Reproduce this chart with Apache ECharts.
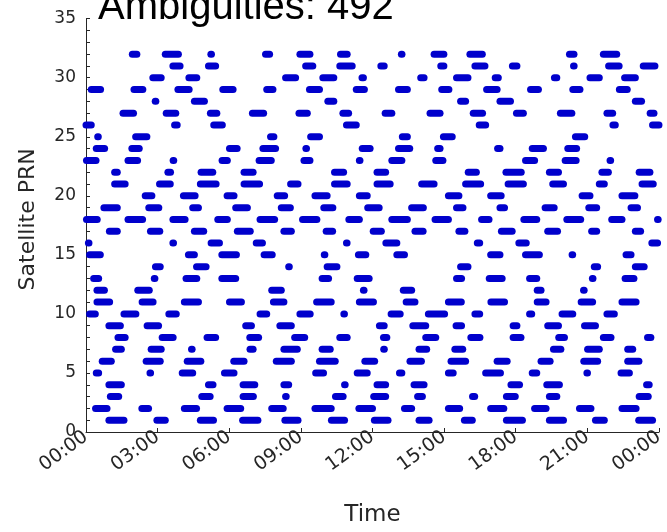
<!DOCTYPE html>
<html>
<head>
<meta charset="UTF-8">
<script src="https://cdn.jsdelivr.net/npm/echarts@6/dist/echarts.min.js"></script>
<style>
  html, body { margin: 0; padding: 0; background: #fff; }
  #main { width: 667px; height: 532px; }
</style>
<title>Ambiguities</title>
</head>
<body>
<div id="main"></div>
<script type="text/javascript">
// ambiguity arcs per satellite, [start hour, end hour]
var prn01 = [[0.96,1.59],[2.97,3.32],[4.79,5.34],[6.56,7.20],[8.33,8.88],[10.28,10.83],[12.08,12.65],[13.95,14.37],[15.85,16.18],[17.61,18.28],[19.41,20.00],[21.34,21.71],[23.15,23.73]];
var prn02 = [[0.40,0.88],[2.34,2.62],[4.12,4.63],[5.91,6.48],[7.78,8.26],[9.59,10.27],[11.43,12.00],[13.34,13.64],[15.18,15.65],[16.95,17.50],[18.79,19.27],[20.67,21.15],[22.45,23.04]];
var prn03 = [[1.02,1.37],[4.85,5.20],[6.58,7.01],[8.36,8.36],[10.45,10.77],[12.05,12.55],[13.89,14.09],[16.19,16.28],[17.61,17.98],[19.41,19.72],[23.17,23.55]];
var prn04 = [[0.96,1.48],[5.13,5.32],[6.58,7.07],[8.29,8.49],[10.83,10.83],[12.19,12.55],[13.74,14.16],[17.80,18.16],[19.30,19.83],[23.48,23.59]];
var prn05 = [[0.43,0.53],[2.68,2.68],[4.03,4.47],[5.80,6.20],[9.62,9.95],[11.36,11.78],[13.13,13.23],[15.18,15.38],[16.74,17.36],[18.69,18.88],[20.98,20.98],[22.41,22.76]];
var prn06 = [[0.68,1.06],[2.52,3.11],[4.24,4.81],[6.19,6.62],[7.97,8.60],[9.78,10.44],[11.68,12.09],[13.57,14.05],[15.29,15.90],[17.22,17.64],[19.06,19.44],[20.85,21.43],[22.69,23.16]];
var prn07 = [[1.24,1.48],[2.73,3.15],[4.42,4.42],[6.87,7.00],[8.29,8.85],[9.89,10.23],[12.47,12.47],[13.95,14.27],[15.45,15.78],[19.58,19.89],[21.01,21.50],[22.69,22.90]];
var prn08 = [[1.34,1.64],[3.19,3.65],[5.07,5.43],[6.86,7.23],[8.74,9.16],[10.63,10.94],[12.46,12.60],[14.23,14.65],[16.12,16.50],[17.89,18.22],[19.80,20.04],[21.67,21.99],[23.52,23.66]];
var prn09 = [[0.96,1.44],[2.56,3.04],[6.69,6.93],[8.12,8.60],[12.29,12.49],[13.69,14.23],[15.50,15.73],[17.89,18.05],[19.34,19.79],[20.88,21.34]];
var prn10 = [[0.15,0.39],[1.59,2.09],[3.47,3.78],[7.29,7.57],[8.96,9.39],[10.80,10.80],[12.78,13.16],[14.34,15.02],[16.29,16.49],[18.58,18.67],[19.94,20.39],[21.82,22.13]];
var prn11 = [[0.46,0.99],[2.35,2.81],[4.12,4.71],[6.01,6.51],[7.85,8.29],[9.66,10.27],[11.45,12.04],[13.41,13.78],[15.18,15.72],[16.96,17.53],[18.90,19.27],[20.74,21.22],[22.45,23.04]];
var prn12 = [[0.46,0.77],[2.17,2.65],[7.78,8.18],[11.62,11.62],[13.29,13.64],[18.90,19.06],[20.84,20.84]];
var prn13 = [[0.32,0.53],[2.86,2.86],[4.19,4.64],[5.69,6.27],[9.89,10.16],[11.36,11.86],[15.52,15.73],[16.89,17.43],[18.58,18.88],[21.21,21.21],[22.58,22.95]];
var prn14 = [[2.91,3.11],[4.63,5.03],[8.49,8.49],[10.10,10.51],[15.69,16.00],[21.29,21.43],[23.01,23.38]];
var prn15 = [[0.15,0.60],[4.29,4.54],[5.69,6.30],[7.46,7.80],[9.98,9.98],[11.41,11.72],[13.02,13.34],[16.95,17.34],[18.41,18.99],[20.36,20.36],[22.62,22.83]];
var prn16 = [[0.10,0.10],[3.64,3.64],[5.24,5.59],[7.13,7.39],[10.91,10.91],[12.56,13.02],[16.39,16.49],[18.13,18.44],[23.70,23.94]];
var prn17 = [[0.98,1.31],[2.70,3.09],[4.54,4.93],[6.34,6.88],[8.29,8.60],[10.06,10.33],[12.03,12.37],[13.78,14.12],[15.62,15.87],[17.40,17.85],[19.34,19.75],[21.18,21.39],[23.01,23.23]];
var prn18 = [[0.02,0.47],[1.76,2.37],[3.64,4.15],[5.52,5.92],[7.29,7.90],[9.07,9.67],[11.01,11.45],[12.81,13.46],[14.62,15.18],[16.57,16.88],[18.34,18.88],[20.14,20.72],[22.02,22.45],[23.94,23.94]];
var prn19 = [[0.75,1.31],[2.63,3.05],[4.47,4.71],[6.27,6.76],[8.18,8.56],[9.96,10.34],[11.80,12.28],[13.64,14.13],[15.52,15.79],[17.34,17.53],[19.23,19.61],[21.06,21.39],[22.83,23.10]];
var prn20 = [[2.48,2.76],[4.08,4.57],[5.91,6.20],[8.01,8.32],[9.59,10.10],[11.45,11.78],[15.18,15.62],[16.95,17.39],[20.78,21.11],[22.45,22.99]];
var prn21 = [[1.20,1.64],[3.08,3.53],[4.79,5.45],[6.62,7.27],[8.57,8.88],[10.41,10.94],[12.19,12.74],[14.06,14.58],[15.90,16.53],[17.68,18.32],[19.55,20.00],[21.50,21.71],[23.29,23.76]];
var prn22 = [[1.20,1.31],[3.43,3.54],[4.82,5.31],[6.62,7.00],[10.41,10.79],[12.19,12.55],[16.01,16.35],[17.59,18.23],[19.41,19.79],[21.61,21.88],[23.17,23.62]];
var prn23 = [[0.02,0.42],[1.76,2.16],[3.65,3.65],[5.70,5.92],[7.25,7.76],[9.13,9.38],[11.45,11.45],[12.81,13.23],[14.65,14.95],[18.41,18.79],[20.07,20.53],[21.95,21.95]];
var prn24 = [[0.43,0.78],[1.92,2.23],[6.01,6.33],[7.41,7.94],[9.21,9.21],[11.57,11.90],[13.09,13.56],[14.73,14.83],[17.24,17.34],[18.69,19.16],[20.18,20.55]];
var prn25 = [[0.49,0.49],[2.08,2.55],[7.73,7.87],[9.41,9.78],[13.25,13.46],[14.97,15.34],[20.50,20.89]];
var prn26 = [[0.00,0.22],[3.71,3.82],[5.35,5.71],[10.91,11.32],[16.47,16.74],[22.07,22.17],[23.73,24.00]];
var prn27 = [[1.55,1.99],[3.36,3.76],[5.21,5.48],[6.97,7.44],[8.92,9.27],[10.76,11.00],[12.53,12.81],[14.41,14.83],[16.22,16.61],[18.03,18.32],[19.87,20.35],[21.82,22.06],[23.63,23.79]];
var prn28 = [[2.90,2.90],[4.54,4.96],[10.13,10.38],[15.69,15.90],[17.34,17.78],[23.01,23.27]];
var prn29 = [[0.22,0.61],[2.01,2.38],[3.85,4.32],[5.73,6.16],[7.57,7.83],[9.36,9.78],[11.32,11.66],[13.09,13.46],[14.90,15.20],[16.78,17.22],[18.62,18.95],[20.39,20.69],[22.34,22.67]];
var prn30 = [[2.80,3.15],[4.31,4.64],[8.36,8.78],[9.92,10.38],[11.56,11.62],[14.02,14.16],[15.52,16.00],[17.14,17.27],[19.62,19.72],[21.11,21.50],[22.56,23.01]];
var prn31 = [[3.64,3.94],[5.13,5.43],[9.20,9.50],[10.63,11.15],[12.35,12.49],[14.86,14.99],[16.29,16.71],[17.86,18.05],[20.42,20.42],[21.89,22.33],[23.34,23.83]];
var prn32 = [[1.94,2.13],[3.32,3.87],[5.23,5.23],[7.52,7.69],[8.96,9.38],[10.66,10.94],[13.21,13.21],[14.58,14.99],[16.08,16.60],[20.25,20.44],[21.67,22.23]];

var prnRows = [prn01, prn02, prn03, prn04, prn05, prn06, prn07, prn08, prn09, prn10,
               prn11, prn12, prn13, prn14, prn15, prn16, prn17, prn18, prn19, prn20,
               prn21, prn22, prn23, prn24, prn25, prn26, prn27, prn28, prn29, prn30,
               prn31, prn32];
var timeTicks = ['00:00', '03:00', '06:00', '09:00', '12:00', '15:00', '18:00', '21:00', '00:00'];
var ambiguityCount = 492;

var arcs = [];
for (var i = 0; i < prnRows.length; i++) {
    for (var j = 0; j < prnRows[i].length; j++) {
        arcs.push([prnRows[i][j][0], prnRows[i][j][1], i + 1]);
    }
}

var myChart = echarts.init(document.getElementById('main'));
var axisColor = '#262626';
var option = {
    animation: false,
    title: {
        text: 'Ambiguities: ' + ambiguityCount,
        left: 93,
        top: -17,
        textStyle: { fontFamily: 'Liberation Sans', fontSize: 40, fontWeight: 'normal', color: '#000' }
    },
    grid: { left: 86, right: 7, top: 18.7, bottom: 96.7 },
    xAxis: {
        type: 'value',
        min: 0, max: 24, interval: 3,
        name: 'Time',
        nameLocation: 'middle',
        nameGap: 72,
        nameTextStyle: { fontFamily: 'DejaVu Sans', fontSize: 23, color: axisColor },
        axisLine: { lineStyle: { color: axisColor } },
        axisTick: { inside: true, length: 4, lineStyle: { color: axisColor } },
        splitLine: { show: false },
        axisLabel: {
            rotate: 36, margin: 3,
            fontFamily: 'DejaVu Sans', fontSize: 19, color: axisColor,
            formatter: function (v) { return timeTicks[Math.round(v / 3)]; }
        }
    },
    yAxis: {
        type: 'value',
        min: 0, max: 35, interval: 5,
        name: 'Satellite PRN',
        nameLocation: 'middle',
        nameGap: 47,
        nameTextStyle: { fontFamily: 'DejaVu Sans', fontSize: 22, color: axisColor, padding: [0, 0, 0, 12] },
        axisLine: { show: true, lineStyle: { color: axisColor } },
        axisTick: { show: true, inside: true, length: 4, lineStyle: { color: axisColor } },
        minorTick: { show: true, splitNumber: 5, length: 4, lineStyle: { color: axisColor } },
        splitLine: { show: false },
        axisLabel: { margin: 10, fontFamily: 'DejaVu Sans', fontSize: 17, color: axisColor }
    },
    series: [{
        type: 'custom',
        data: arcs,
        encode: { x: [0, 1], y: 2 },
        renderItem: function (params, api) {
            var p1 = api.coord([api.value(0), api.value(2)]);
            var p2 = api.coord([api.value(1), api.value(2)]);
            var x2 = p2[0] - p1[0] < 0.6 ? p1[0] + 0.6 : p2[0];
            return {
                type: 'line',
                shape: { x1: p1[0], y1: p1[1], x2: x2, y2: p2[1] },
                style: { stroke: '#0000cc', lineWidth: 7, lineCap: 'round' }
            };
        }
    }]
};
myChart.setOption(option);
</script>
</body>
</html>
